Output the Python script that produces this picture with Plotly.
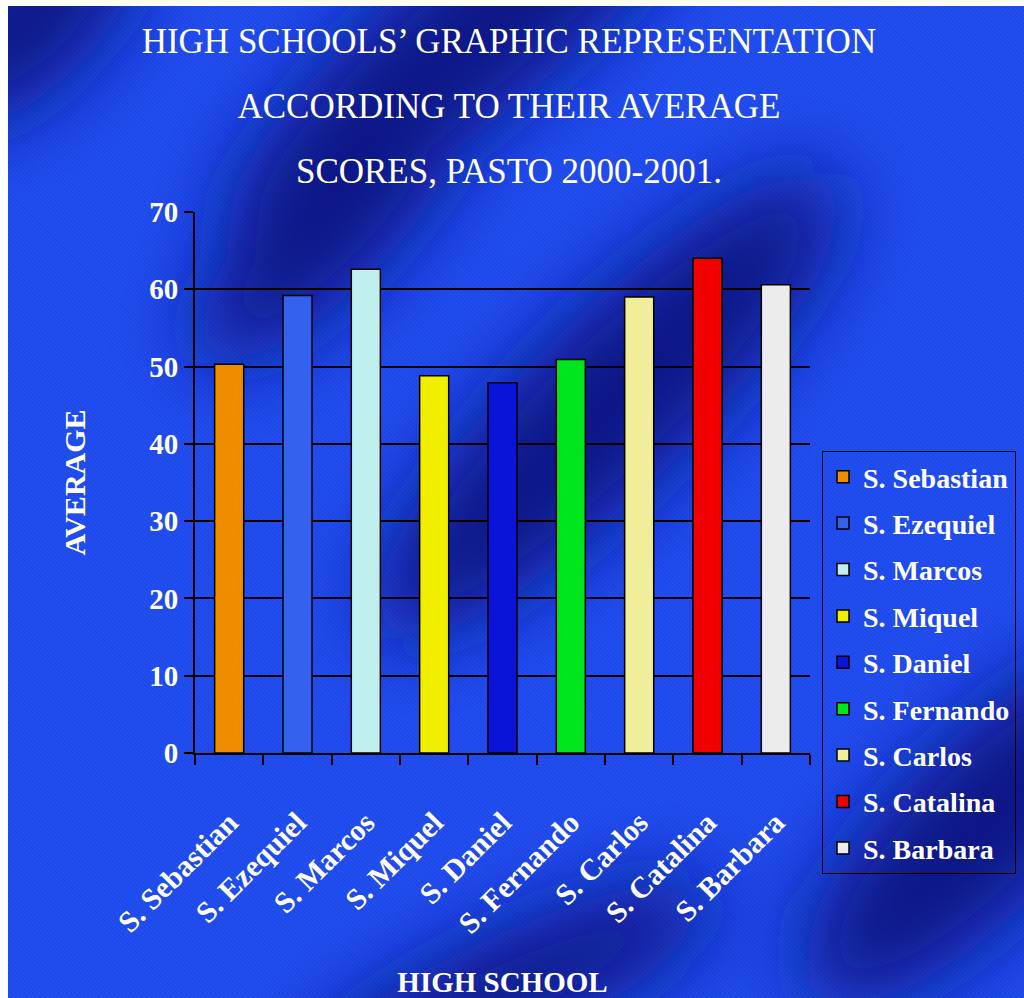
import base64
import plotly.graph_objects as go

# ---- data ----
schools = ["S. Sebastian", "S. Ezequiel", "S. Marcos", "S. Miquel", "S. Daniel",
           "S. Fernando", "S. Carlos", "S. Catalina", "S. Barbara"]
averages = [50.3, 59.2, 62.6, 48.8, 47.9, 50.9, 59.0, 64.0, 60.6]
bar_colors = ["#f08c00", "#3462ee", "#bff0ee", "#f2ee00", "#0a14d8",
              "#00e61e", "#f0ee9a", "#f00000", "#ececec"]
y_ticks = [0, 10, 20, 30, 40, 50, 60, 70]
title_lines = ["HIGH SCHOOLS’ GRAPHIC REPRESENTATION",
               "ACCORDING TO THEIR AVERAGE",
               "SCORES, PASTO 2000-2001."]

FONT = "Liberation Serif, Times New Roman, serif"

# ---- background (diagonal blue gradient with fine stripes) ----
svg = """<svg xmlns='http://www.w3.org/2000/svg' width='1016' height='992' viewBox='0 0 1016 992'>
<defs>
<filter id='b' x='-50%' y='-50%' width='200%' height='200%'><feGaussianBlur stdDeviation='42'/></filter>
<pattern id='p' width='3' height='3' patternUnits='userSpaceOnUse' patternTransform='rotate(-45)'>
<rect width='1.2' height='3' fill='#000030' fill-opacity='0.12'/></pattern>
</defs>
<rect width='1016' height='992' fill='#2250f6'/>
<g filter='url(#b)' fill='#0e1888'>
<ellipse cx='470' cy='25' rx='320' ry='80' transform='rotate(-40 470 25)'/>
<ellipse cx='320' cy='225' rx='180' ry='60' transform='rotate(-45 320 225)'/>
<ellipse cx='600' cy='400' rx='320' ry='85' transform='rotate(-45 600 400)'/>
<ellipse cx='975' cy='820' rx='240' ry='85' transform='rotate(-45 975 820)'/>
<ellipse cx='20' cy='10' rx='140' ry='70' transform='rotate(-45 20 10)'/>
<ellipse cx='500' cy='985' rx='230' ry='55' transform='rotate(-25 500 985)'/>
</g>
<rect width='1016' height='992' fill='url(#p)'/>
</svg>"""
bg_src = "data:image/svg+xml;base64," + base64.b64encode(svg.encode()).decode()

# plot area in pixels
L, R, T, B = 195, 810, 212, 753
W, H = 1024, 998
pw, ph = R - L, B - T

fig = go.Figure()
for name, val, col in zip(schools, averages, bar_colors):
    fig.add_trace(go.Bar(
        x=[name], y=[val], name=name, legendgroup=name,
        marker=dict(color=col, line=dict(color="black", width=1.5)),
    ))

title_html = "<br>".join(f"<span style='font-size:35px'>{t}</span>" for t in title_lines)

fig.update_layout(
    width=W, height=H,
    margin=dict(l=L, r=W - R, t=T, b=H - B, autoexpand=False),
    paper_bgcolor="white",
    plot_bgcolor="rgba(0,0,0,0)",
    barmode="overlay",
    bargap=0.575,
    font=dict(family=FONT, color="white"),
    title=dict(text=title_html, x=0.497, xanchor="center", y=0.947, yanchor="top",
               font=dict(family=FONT, size=50, color="white")),
    images=[dict(source=bg_src, xref="paper", yref="paper",
                 x=(8 - L) / pw, y=(B - 6) / ph,
                 sizex=1016 / pw, sizey=992 / ph,
                 xanchor="left", yanchor="top", sizing="stretch", layer="below")],
    legend=dict(
        x=(822 - L) / pw, y=(B - 451) / ph, xanchor="left", yanchor="top",
        bordercolor="black", borderwidth=1, bgcolor="rgba(0,0,0,0)",
        font=dict(family=FONT, size=28, color="white", weight="bold"),
        traceorder="grouped", tracegroupgap=7, itemwidth=30,
    ),
    showlegend=True,
)

fig.update_xaxes(
    type="category", categoryorder="array", categoryarray=schools,
    tickangle=-45, tickfont=dict(family=FONT, size=30, color="white", weight="bold"),
    ticks="outside", tickson="boundaries", ticklen=10, tickwidth=2, tickcolor="black",
    showline=True, linecolor="black", linewidth=2,
    showgrid=False, ticklabelstandoff=38, automargin=False,
    title=dict(text="HIGH SCHOOL", standoff=54,
               font=dict(family=FONT, size=29, color="white", weight="bold")),
)
fig.update_yaxes(
    range=[0, 70], tickvals=y_ticks,
    tickfont=dict(family=FONT, size=29, color="white", weight="bold"),
    ticks="outside", ticklen=9, tickwidth=2, tickcolor="black",
    showline=True, linecolor="black", linewidth=2,
    showgrid=True, gridcolor="black", gridwidth=2, zeroline=False,
    automargin=False,
    title=dict(text="AVERAGE", standoff=55,
               font=dict(family=FONT, size=30, color="white", weight="bold")),
)

fig.write_html("out.html")
